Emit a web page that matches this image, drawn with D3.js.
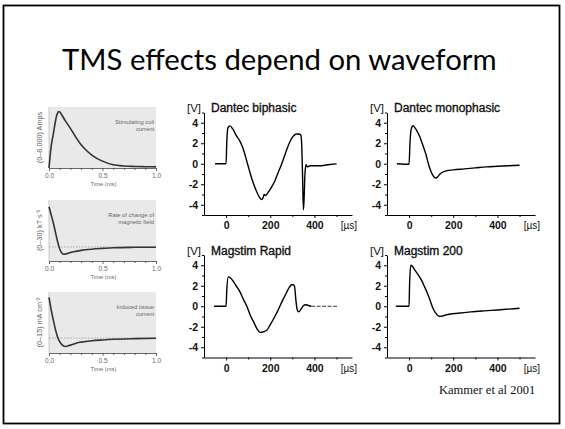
<!DOCTYPE html>
<html>
<head>
<meta charset="utf-8">
<script src="https://cdn.jsdelivr.net/npm/d3@7"></script>
<style>
  body { margin: 0; background: #fff; }
  svg { display: block; }
  .wave-axis path, .wave-axis line { stroke: #000; stroke-width: 1; }
  .wave-axis text { font-family: "Liberation Sans", Arial, sans-serif; font-size: 10.5px; font-weight: bold; fill: #111; }
  .scheme-axis path, .scheme-axis line { stroke: #444; stroke-width: 0.8; }
  .scheme-axis text { font-family: "Liberation Sans", Arial, sans-serif; font-size: 6.5px; fill: #666; }
</style>
</head>
<body>
<div class="chart"></div>
<script>
// Slide texts
const slideTitle = "TMS effects depend on waveform";
const credit = "Kammer et al 2001";

// Left column: schematic traces, time in ms
const schemeNames = [["Stimulating coil", "current"], ["Rate of change of", "magnetic field"], ["Induced tissue", "current"]];
const schemeUnits = ["(0\u20138,000) Amps", "(0\u201330) kT s\u207B\u00B9", "(0\u201315) mA cm\u207B\u00B2"];
const schemeTicks = [0, 0.5, 1.0];
const schemeMinor = [0.1, 0.2, 0.3, 0.4, 0.6, 0.7, 0.8, 0.9];

const coilT = [0, 0.01, 0.02, 0.03, 0.04, 0.05, 0.06, 0.07, 0.08, 0.09, 0.1, 0.12, 0.15, 0.2, 0.25, 0.3, 0.35, 0.4, 0.5, 0.6, 0.7, 0.8, 0.9, 1.0];
const coilAmps = [0, 1500, 2800, 3700, 4400, 5300, 6100, 6800, 7200, 7400, 7350, 6950, 6250, 5200, 4050, 3050, 2300, 1700, 900, 420, 260, 200, 170, 150];

const fieldT = [0, 0.02, 0.04, 0.06, 0.08, 0.1, 0.12, 0.14, 0.17, 0.2, 0.25, 0.3, 0.4, 0.5, 0.6, 0.8, 1.0];
const fieldRate = [30, 24, 18, 11, 4, -1.5, -4.5, -5.5, -5, -4.2, -3.3, -2.6, -1.7, -1.1, -0.6, -0.3, -0.2];

const tissueT = [0, 0.02, 0.04, 0.06, 0.08, 0.1, 0.12, 0.15, 0.2, 0.26, 0.3, 0.4, 0.5, 0.6, 0.8, 1.0];
const tissueCurrent = [15, 10.5, 6.7, 3.2, 0.4, -1.3, -2.4, -3.1, -2.6, -1.8, -1.5, -1.0, -0.7, -0.45, -0.2, -0.05];

// Right side: measured stimulator waveforms, time in µs, amplitude in V
const waveNames = ["Dantec biphasic", "Dantec monophasic", "Magstim Rapid", "Magstim 200"];
const voltTicks = [-4, -2, 0, 2, 4];
const voltMinor = [-5, -3, -1, 1, 3, 5];
const timeTicks = [0, 200, 400];
const timeMinor = [100, 300, 500];

const dantecBiT = [-50, 0, 3, 8, 18, 30, 45, 60, 75, 97, 110, 125, 140, 152, 161, 167, 172, 178, 190, 205, 220, 235, 252, 270, 290, 305, 318, 330, 338, 342, 346, 350, 353, 357, 362, 368, 380, 420, 460, 500];
const dantecBiV = [0, 0, 2.0, 3.5, 3.7, 3.4, 2.8, 2.3, 1.6, 0, -1.0, -2.0, -2.8, -3.3, -3.5, -3.35, -3.0, -3.1, -2.8, -2.3, -1.7, -0.9, 0, 1.1, 2.2, 2.7, 2.9, 2.9, 2.8, 2.0, -1.0, -4.5, -3.5, -1.0, -0.1, -0.3, -0.2, -0.2, -0.1, 0];

const dantecMonoT = [-55, 0, 4, 10, 18, 30, 45, 60, 75, 90, 100, 110, 118, 128, 140, 160, 200, 250, 300, 350, 400, 450, 500];
const dantecMonoV = [0, -0.05, 2.0, 3.4, 3.7, 3.4, 2.8, 1.95, 1.0, -0.2, -0.8, -1.2, -1.4, -1.3, -1.0, -0.75, -0.6, -0.5, -0.4, -0.3, -0.25, -0.2, -0.15];

const rapidT = [-55, 0, 3, 10, 20, 30, 45, 63, 78, 94, 108, 124, 140, 154, 168, 184, 200, 222, 237, 252, 267, 282, 297, 305, 310, 316, 322, 329, 340, 350, 360, 370, 385, 420, 460, 505];
const rapidV = [0, 0, 1.5, 2.85, 2.75, 2.5, 2.0, 1.4, 0.7, 0, -0.8, -1.5, -2.2, -2.55, -2.5, -2.35, -1.8, -0.95, -0.3, 0.4, 1.05, 1.7, 2.1, 2.1, 1.9, 0.6, -0.35, -0.55, -0.25, 0.05, 0.15, 0.1, 0, 0, 0, 0];

const m200T = [-60, 0, 2, 8, 15, 27, 40, 56, 70, 86, 98, 108, 120, 130, 138, 150, 175, 220, 280, 340, 400, 450, 500];
const m200V = [0, 0, 2.0, 4.0, 3.9, 3.5, 3.1, 2.55, 1.9, 1.1, 0.4, -0.2, -0.65, -0.9, -1.0, -0.95, -0.8, -0.68, -0.55, -0.45, -0.36, -0.28, -0.2];

const width = 565, height = 429;

const svg = d3.select(".chart")
    .append("svg")
    .attr("width", width)
    .attr("height", height);

// slide frame
svg.append("rect")
    .attr("x", 3.5).attr("y", 5.5)
    .attr("width", 556).attr("height", 418)
    .attr("fill", "#fff")
    .attr("stroke", "#000")
    .attr("stroke-width", 1.8);

svg.append("text")
    .attr("x", 62).attr("y", 70)
    .style("font-family", "Lato, 'Open Sans', sans-serif")
    .style("font-size", "29.3px")
    .style("fill", "#000")
    .text(slideTitle);

// ---- left column schematic plots ----
const schemeSeries = [
    { t: coilT, v: coilAmps, domain: [0, 8000], zero: false },
    { t: fieldT, v: fieldRate, domain: [-10.5, 35], zero: true },
    { t: tissueT, v: tissueCurrent, domain: [-5.5, 17], zero: true }
];
const schemeTops = [107, 200, 292];
const schemeBottoms = [168, 261, 353];

const sx = d3.scaleLinear().domain([0, 1]).range([49, 156]);

schemeSeries.forEach((s, i) => {
    const sy = d3.scaleLinear().domain(s.domain).range([schemeBottoms[i], schemeTops[i]]);
    const g = svg.append("g");

    g.append("rect")
        .attr("x", sx(0)).attr("y", schemeTops[i])
        .attr("width", sx(1) - sx(0)).attr("height", schemeBottoms[i] - schemeTops[i])
        .attr("fill", "#e9e9e9");

    g.append("line")
        .attr("x1", sx(0)).attr("x2", sx(0))
        .attr("y1", schemeTops[i]).attr("y2", schemeBottoms[i])
        .attr("stroke", "#bbb").attr("stroke-width", 0.8);

    if (s.zero) {
        g.append("line")
            .attr("x1", sx(0)).attr("x2", sx(1))
            .attr("y1", sy(0)).attr("y2", sy(0))
            .attr("stroke", "#999")
            .attr("stroke-width", 0.8)
            .attr("stroke-dasharray", "1.5,1.5");
    }

    const pts = s.t.map((t, j) => [t, s.v[j]]);
    g.append("path")
        .datum(pts)
        .attr("fill", "none")
        .attr("stroke", "#333")
        .attr("stroke-width", 1.6)
        .attr("d", d3.line().x(d => sx(d[0])).y(d => sy(d[1])).curve(d3.curveMonotoneX));

    g.append("g")
        .attr("class", "scheme-axis")
        .attr("transform", `translate(0,${schemeBottoms[i]})`)
        .call(d3.axisBottom(sx).tickValues(schemeTicks).tickFormat(d3.format(".1f")).tickSize(3).tickPadding(2).tickSizeOuter(0));
    g.append("g")
        .attr("class", "scheme-axis")
        .attr("transform", `translate(0,${schemeBottoms[i]})`)
        .call(d3.axisBottom(sx).tickValues(schemeMinor).tickFormat("").tickSize(2).tickSizeOuter(0))
        .select(".domain").remove();

    g.append("text")
        .attr("x", (sx(0) + sx(1)) / 2 + 1)
        .attr("y", schemeBottoms[i] + 18)
        .attr("text-anchor", "middle")
        .style("font-family", "'Liberation Sans', Arial, sans-serif")
        .style("font-size", "5.8px")
        .style("fill", "#666")
        .text("Time (ms)");

    g.append("text")
        .attr("transform", `translate(42,${(schemeTops[i] + schemeBottoms[i]) / 2}) rotate(-90)`)
        .attr("text-anchor", "middle")
        .style("font-family", "'Liberation Sans', Arial, sans-serif")
        .style("font-size", "7.3px")
        .style("fill", "#666")
        .text(schemeUnits[i]);

    schemeNames[i].forEach((line, k) => {
        g.append("text")
            .attr("x", 154)
            .attr("y", schemeBottoms[i] - 44 + k * 7)
            .attr("text-anchor", "end")
            .style("font-family", "'Liberation Sans', Arial, sans-serif")
            .style("font-size", "5.8px")
            .style("fill", "#666")
            .text(line);
    });
});

// ---- right side waveforms ----
const waves = [
    { t: dantecBiT, v: dantecBiV },
    { t: dantecMonoT, v: dantecMonoV },
    { t: rapidT, v: rapidV, dashFrom: 385 },
    { t: m200T, v: m200V }
];
const waveLeft = [204, 387, 204, 387];
const waveBottom = [215, 215, 357.5, 357.5];
const plotW = 148, plotH = 102.5;

waves.forEach((w, i) => {
    const x = d3.scaleLinear().domain([-100, 570]).range([waveLeft[i], waveLeft[i] + plotW]);
    const y = d3.scaleLinear().domain([-5, 5]).range([waveBottom[i], waveBottom[i] - plotH]);
    const g = svg.append("g");

    g.append("g")
        .attr("class", "wave-axis")
        .attr("transform", `translate(${waveLeft[i]},0)`)
        .call(d3.axisLeft(y).tickValues(voltTicks).tickFormat(d => String(d)).tickSize(3).tickPadding(3).tickSizeOuter(0));
    g.append("g")
        .attr("class", "wave-axis")
        .attr("transform", `translate(${waveLeft[i]},0)`)
        .call(d3.axisLeft(y).tickValues(voltMinor).tickFormat("").tickSize(2).tickSizeOuter(0))
        .select(".domain").remove();

    g.append("g")
        .attr("class", "wave-axis")
        .attr("transform", `translate(0,${waveBottom[i]})`)
        .call(d3.axisBottom(x).tickValues(timeTicks).tickSize(3).tickPadding(4).tickSizeOuter(0));
    g.append("g")
        .attr("class", "wave-axis")
        .attr("transform", `translate(0,${waveBottom[i]})`)
        .call(d3.axisBottom(x).tickValues(timeMinor).tickFormat("").tickSize(2).tickSizeOuter(0))
        .select(".domain").remove();

    g.append("text")
        .attr("x", waveLeft[i] + plotW - 3)
        .attr("y", waveBottom[i] + 14)
        .attr("text-anchor", "middle")
        .style("font-family", "'Liberation Sans', Arial, sans-serif")
        .style("font-size", "10px")
        .style("fill", "#111")
        .text("[\u00B5s]");

    g.append("text")
        .attr("x", waveLeft[i] - 3)
        .attr("y", waveBottom[i] - plotH - 0.5)
        .attr("text-anchor", "end")
        .style("font-family", "'Liberation Sans', Arial, sans-serif")
        .style("font-size", "11.5px")
        .style("fill", "#111")
        .text("[V]");

    g.append("text")
        .attr("x", waveLeft[i] + 7)
        .attr("y", waveBottom[i] - plotH - 0.5)
        .style("font-family", "'Liberation Sans', Arial, sans-serif")
        .style("font-size", "12px")
        .style("fill", "#111")
        .style("stroke", "#111")
        .style("stroke-width", 0.35)
        .text(waveNames[i]);

    const pts = w.t.map((t, j) => [t, w.v[j]]);
    const line = d3.line().x(d => x(d[0])).y(d => y(d[1])).curve(d3.curveMonotoneX);
    const cut = w.dashFrom !== undefined ? w.dashFrom : Infinity;

    g.append("path")
        .datum(pts.filter(d => d[0] <= cut))
        .attr("fill", "none")
        .attr("stroke", "#000")
        .attr("stroke-width", 1.4)
        .attr("d", line);

    if (cut !== Infinity) {
        g.append("path")
            .datum(pts.filter(d => d[0] >= cut))
            .attr("fill", "none")
            .attr("stroke", "#333")
            .attr("stroke-width", 1)
            .attr("stroke-dasharray", "4,1.5")
            .attr("d", line);
    }
});

svg.append("text")
    .attr("x", 439).attr("y", 394)
    .style("font-family", "'Liberation Serif', 'Times New Roman', serif")
    .style("font-size", "12.5px")
    .style("fill", "#111")
    .text(credit);
</script>
</body>
</html>
